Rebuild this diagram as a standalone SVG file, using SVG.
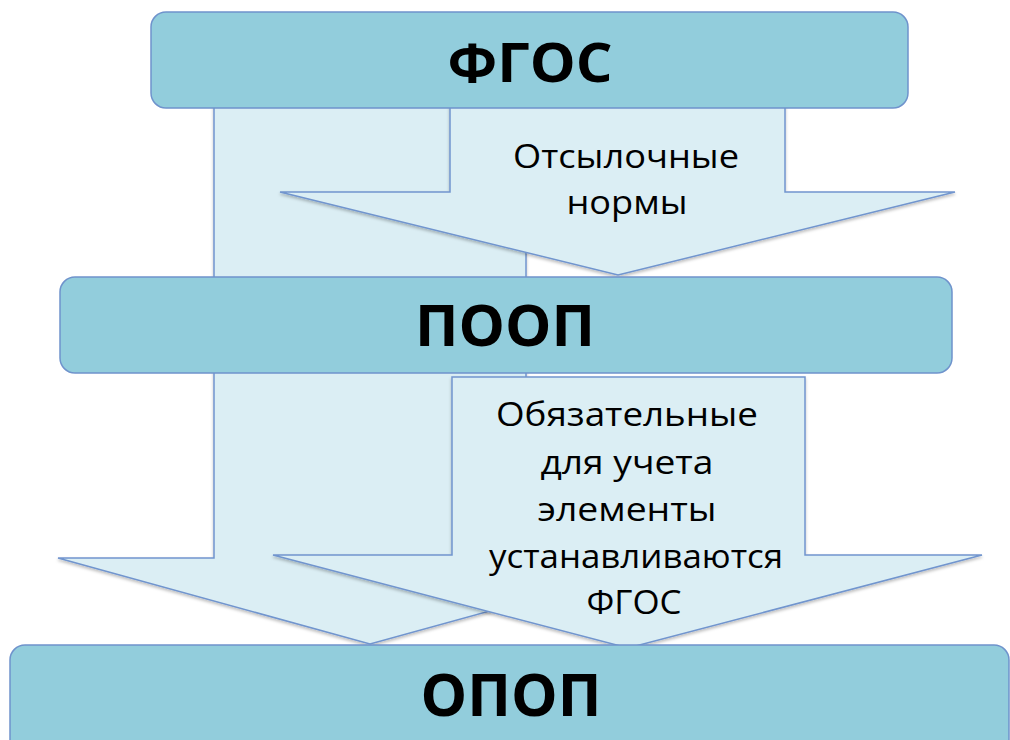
<svg xmlns="http://www.w3.org/2000/svg" width="1010" height="740" viewBox="0 0 1010 740">
<defs>
<style>
.box{fill:#92CDDC;stroke:#6F93CC;stroke-width:1.5}
.arrow{fill:#DBEEF4;stroke:#7195CE;stroke-width:1.5;stroke-linejoin:miter}
.title{font-family:"Open Sans","Liberation Sans",sans-serif;font-weight:bold;fill:#000;text-anchor:middle}
.lbl{font-family:"Open Sans","Liberation Sans",sans-serif;font-size:32px;fill:#000;text-anchor:middle}
</style>
<filter id="sh" x="-5%" y="-5%" width="110%" height="115%">
<feDropShadow dx="0" dy="2" stdDeviation="1.5" flood-color="#000" flood-opacity="0.25"/>
</filter>
</defs>
<rect width="1010" height="740" fill="#fff"/>
<g id="connectors">
<polygon id="arrow-fgos-opop" class="arrow" filter="url(#sh)" points="214,100 526,100 526,558 682,558 370,644 58,558 214,558"/>
<polygon id="arrow-fgos-poop" class="arrow" filter="url(#sh)" points="450,100 785,100 785,192 955,192 618,275 280,192 450,192"/>
<polygon id="arrow-poop-opop" class="arrow" filter="url(#sh)" points="452,377 805,377 805,555 982,555 628,648 273,555 452,555"/>
<text class="lbl" x="626" y="168" textLength="226" lengthAdjust="spacingAndGlyphs">Отсылочные</text>
<text class="lbl" x="627" y="214" textLength="121" lengthAdjust="spacingAndGlyphs">нормы</text>
<text class="lbl" x="627" y="426" textLength="262" lengthAdjust="spacingAndGlyphs">Обязательные</text>
<text class="lbl" x="627" y="474" textLength="173" lengthAdjust="spacingAndGlyphs">для учета</text>
<text class="lbl" x="627" y="521" textLength="179" lengthAdjust="spacingAndGlyphs">элементы</text>
<text class="lbl" x="636" y="568" textLength="294" lengthAdjust="spacingAndGlyphs">устанавливаются</text>
<text class="lbl" x="634" y="614" textLength="95" lengthAdjust="spacingAndGlyphs">ФГОС</text>
</g>
<g id="node-fgos">
<rect class="box" x="151" y="12" width="757" height="96" rx="15"/>
<text class="title" x="530" y="82" font-size="53" textLength="165" lengthAdjust="spacingAndGlyphs">ФГОС</text>
</g>
<g id="node-poop">
<rect class="box" x="60" y="277" width="892" height="96" rx="15"/>
<text class="title" x="505" y="346" font-size="58" textLength="180" lengthAdjust="spacingAndGlyphs">ПООП</text>
</g>
<g id="node-opop">
<rect class="box" x="10" y="645" width="999" height="110" rx="15"/>
<text class="title" x="511" y="716" font-size="59" textLength="181" lengthAdjust="spacingAndGlyphs">ОПОП</text>
</g>
</svg>
